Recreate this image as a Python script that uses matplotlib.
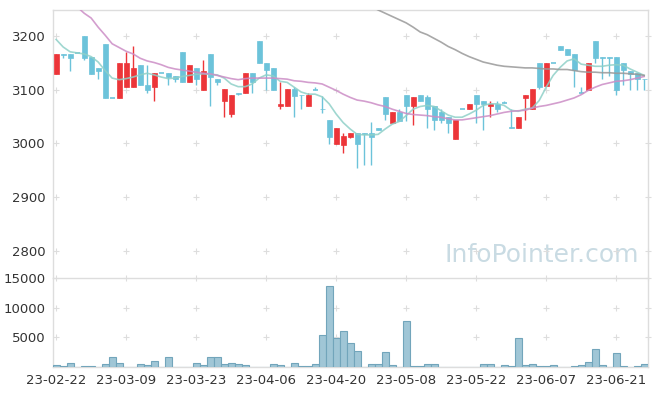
import matplotlib
matplotlib.use("Agg")
import matplotlib.pyplot as plt
import numpy as np
import pandas as pd

# trading days (KRX holidays removed)
holidays = ["2023-03-01", "2023-05-01", "2023-05-05", "2023-05-29", "2023-06-06"]
dates = pd.bdate_range("2023-02-22", "2023-06-27", freq="C", holidays=holidays)
date_labels = [d.strftime("%y-%m-%d") for d in dates]

opens = [3130, 3166, 3166, 3168, 3200, 3161, 3140, 3185, 3085, 3084,
         3105, 3105, 3146, 3110, 3105, 3131, 3131, 3125, 3170, 3114,
         3140, 3099, 3166, 3121, 3079, 3055, 3094, 3094, 3131, 3191,
         3151, 3140, 3069, 3069, 3101, 3091, 3069, 3100, 3065, 3044,
         2999, 2998, 3013, 3019, 3019, 3019, 3029, 3086, 3039, 3059,
         3091, 3069, 3091, 3086, 3070, 3059, 3049, 3009, 3064, 3064,
         3091, 3080, 3069, 3074, 3075, 3030, 3029, 3084, 3064, 3151,
         3108, 3151, 3181, 3176, 3166, 3094, 3099, 3191, 3161, 3161,
         3161, 3151, 3136, 3131, 3121]
highs = [3166, 3166, 3166, 3168, 3200, 3161, 3140, 3185, 3085, 3151,
         3170, 3181, 3146, 3146, 3131, 3131, 3131, 3125, 3170, 3146,
         3140, 3155, 3166, 3121, 3101, 3091, 3094, 3131, 3131, 3191,
         3151, 3140, 3114, 3101, 3105, 3091, 3094, 3105, 3089, 3044,
         3029, 3019, 3019, 3019, 3019, 3040, 3029, 3086, 3059, 3064,
         3091, 3086, 3091, 3091, 3070, 3064, 3049, 3044, 3064, 3074,
         3091, 3080, 3080, 3080, 3080, 3064, 3049, 3091, 3101, 3151,
         3151, 3151, 3181, 3176, 3166, 3105, 3151, 3191, 3161, 3161,
         3161, 3151, 3136, 3131, 3121]
lows = [3130, 3160, 3135, 3168, 3155, 3129, 3121, 3084, 3085, 3084,
        3105, 3105, 3109, 3094, 3079, 3131, 3110, 3114, 3114, 3114,
        3110, 3099, 3070, 3110, 3049, 3049, 3090, 3094, 3094, 3150,
        3099, 3099, 3064, 3069, 3049, 3064, 3069, 3100, 3057, 2999,
        2999, 2983, 3010, 2954, 2960, 2960, 3025, 3044, 3039, 3042,
        3042, 3034, 3080, 3029, 3025, 3039, 3019, 3009, 3064, 3064,
        3039, 3025, 3049, 3059, 3075, 3029, 3029, 3044, 3064, 3101,
        3108, 3151, 3175, 3165, 3105, 3094, 3099, 3150, 3120, 3125,
        3091, 3110, 3100, 3100, 3100]
closes = [3166, 3165, 3159, 3168, 3159, 3129, 3135, 3084, 3085, 3151,
          3151, 3140, 3109, 3099, 3131, 3131, 3124, 3120, 3114, 3146,
          3120, 3136, 3124, 3114, 3101, 3091, 3092, 3131, 3114, 3150,
          3138, 3099, 3074, 3101, 3089, 3090, 3091, 3100, 3064, 3013,
          3029, 3014, 3019, 2999, 3017, 3013, 3025, 3055, 3059, 3042,
          3069, 3086, 3080, 3064, 3044, 3044, 3039, 3044, 3064, 3074,
          3074, 3073, 3074, 3064, 3075, 3029, 3049, 3091, 3101, 3105,
          3151, 3151, 3175, 3165, 3138, 3094, 3151, 3159, 3160, 3160,
          3099, 3138, 3130, 3120, 3120]
volumes = [300, 170, 620, 0, 110, 110, 0, 450, 1640, 620,
           0, 0, 450, 280, 960, 0, 1640, 0, 0, 0,
           620, 280, 1640, 1640, 450, 620, 450, 280, 0, 0,
           0, 450, 280, 0, 620, 110, 110, 450, 5370, 13730,
           4860, 6050, 4010, 2650, 0, 450, 450, 2490, 280, 0,
           7740, 110, 110, 450, 450, 0, 0, 0, 0, 0,
           0, 450, 450, 0, 280, 110, 4860, 280, 450, 110,
           110, 280, 0, 0, 110, 280, 790, 3000, 280, 0,
           2320, 110, 0, 110, 450]
ma5 = [3194, 3180, 3171, 3169, 3167, 3162, 3152, 3136, 3122, 3119,
       3121, 3124, 3128, 3131, 3128, 3124, 3121, 3122, 3125, 3127,
       3129, 3130, 3129, 3128, 3122, 3111, 3106, 3106, 3111, 3122,
       3128, 3126, 3116, 3114, 3105, 3096, 3092, 3092, 3087, 3074,
       3055, 3039, 3027, 3017, 3016, 3016, 3017, 3027, 3036, 3041,
       3052, 3064, 3069, 3071, 3069, 3061, 3053, 3049, 3049, 3055,
       3062, 3071, 3074, 3074, 3071, 3062, 3060, 3064, 3066, 3080,
       3105, 3127, 3142, 3154, 3158, 3148, 3146, 3144, 3144, 3146,
       3147, 3146, 3139, 3133, 3127]
ma20 = [3285, 3275, 3265, 3255, 3243, 3234, 3217, 3202, 3186, 3179,
        3172, 3167, 3159, 3154, 3151, 3147, 3142, 3139, 3137, 3135,
        3133, 3131, 3130, 3127, 3124, 3121, 3119, 3121, 3122, 3122,
        3122, 3122, 3121, 3120, 3117, 3116, 3114, 3113, 3111, 3105,
        3099, 3092, 3086, 3081, 3079, 3076, 3072, 3069, 3064, 3060,
        3056, 3054, 3053, 3052, 3050, 3049, 3046, 3044, 3044, 3046,
        3048, 3050, 3052, 3055, 3058, 3060, 3061, 3062, 3066, 3069,
        3071, 3074, 3077, 3081, 3085, 3091, 3099, 3105, 3110, 3113,
        3116, 3117, 3119, 3122, 3125]
ma60 = [np.nan] * 45 + [3256, 3249, 3243, 3237, 3231,
        3225, 3217, 3208, 3203, 3196, 3189, 3181, 3175, 3168, 3162,
        3157, 3152, 3149, 3146, 3144, 3143, 3142, 3141, 3141, 3140,
        3139, 3139, 3138, 3138, 3136, 3134, 3133, 3133, 3132, 3132,
        3131, 3131, 3130, 3129, 3127]

price_ticks = [2800, 2900, 3000, 3100, 3200]
vol_ticks = [5000, 10000, 15000]
tick_idx = list(range(0, 81, 10))

RED = "#ec3539"
BLUE = "#6cc3da"
SPINE = "#dddddd"

fig = plt.figure(figsize=(6.57, 3.96), dpi=100)
ax = fig.add_axes([53 / 657, (396 - 277.5) / 396, 595 / 657, 267.5 / 396])
axv = fig.add_axes([53 / 657, (396 - 367) / 396, 595 / 657, 89 / 396])

x = np.arange(len(opens))
o = np.array(opens)
c = np.array(closes)
h = np.array(highs)
l = np.array(lows)
colors = [RED if cc > oo else BLUE for oo, cc in zip(o, c)]

# wicks
ax.vlines(x, l, h, colors=colors, linewidth=1, zorder=2)
# bodies
body_w = 0.68
for xi, oo, cc, col in zip(x, o, c, colors):
    if abs(cc - oo) < 0.5:
        ax.hlines(oo, xi - body_w / 2, xi + body_w / 2, colors=col, linewidth=1.2, zorder=3)
    else:
        ax.bar(xi, abs(cc - oo), bottom=min(oo, cc), width=body_w, color=col,
               edgecolor=col, linewidth=0.5, zorder=3)

ax.plot(x, ma5, color="#8fd0c8", lw=1.2, alpha=0.85, zorder=4)
ax.plot(x, ma20, color="#cc8dc6", lw=1.2, alpha=0.85, zorder=4)
ax.plot(x, ma60, color="#999999", lw=1.2, alpha=0.85, zorder=4)

xlim = (-0.45, 84.55)
ax.set_xlim(*xlim)
ax.set_ylim(2750, 3249)
ax.set_yticks(price_ticks)
ax.set_xticks([])

# volume
axv.bar(x, volumes, width=1.0, color="#a0c6d6", edgecolor="#72a5bb", linewidth=0.8, zorder=3)
axv.set_xlim(*xlim)
axv.set_ylim(0, 15000)
axv.set_yticks(vol_ticks)
axv.set_xticks(tick_idx)
axv.set_xticklabels([date_labels[i] for i in tick_idx])

# grid crosses
for a, yt in ((ax, price_ticks), (axv, vol_ticks)):
    gx, gy = np.meshgrid(tick_idx + [xlim[1]], yt)
    a.scatter(gx.ravel(), gy.ravel(), marker="+", s=20, color=SPINE, linewidths=0.8,
              zorder=1, clip_on=False)
    for s in a.spines.values():
        s.set_color(SPINE)
        s.set_linewidth(1)
    a.tick_params(length=0, labelsize=9.5, labelcolor="#333333", pad=5)

ax.spines["bottom"].set_visible(False)

ax.text(0.985, 0.085, "InfoPointer.com", transform=ax.transAxes, ha="right", va="center",
        fontsize=18, color="#c9dbe3", zorder=0)

fig.savefig("out.png", dpi=100)
